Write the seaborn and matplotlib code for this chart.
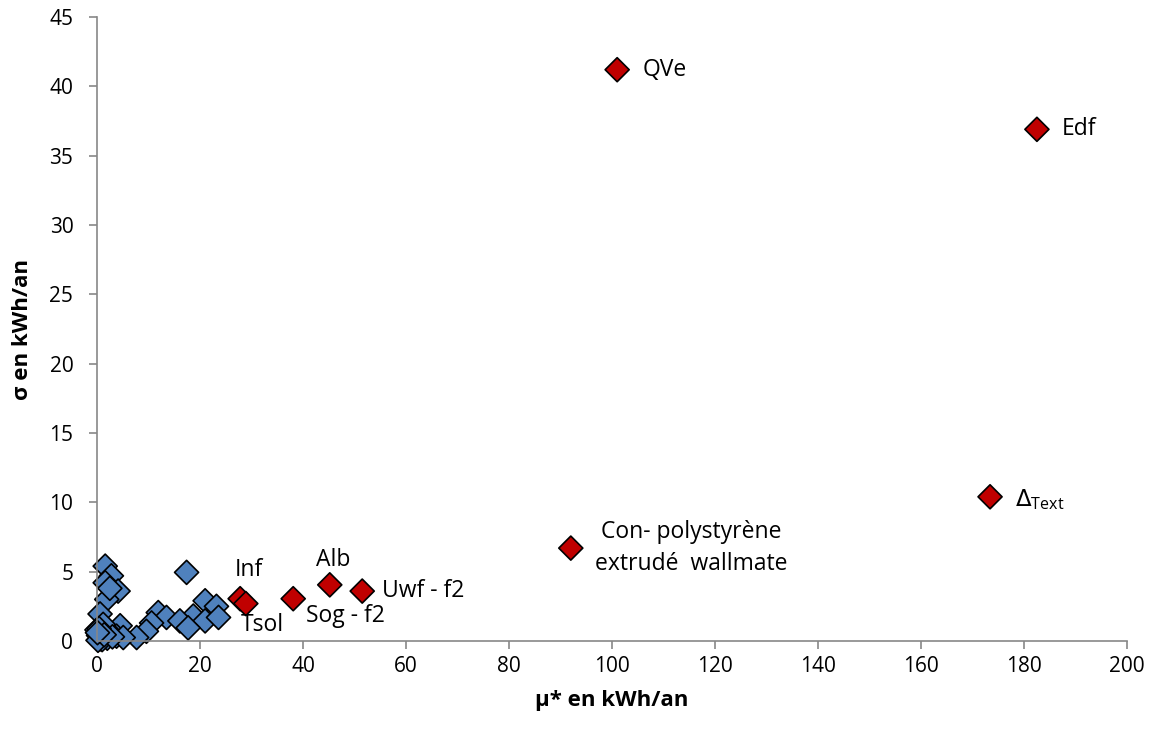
import pandas as pd
import matplotlib.pyplot as plt
import seaborn as sns

# Morris screening: mu* vs sigma (kWh/an)
blue_mu = [1.6, 17.4, 2.8, 1.6, 4.1, 1.9, 21.0, 23.2, 0.6, 11.9, 13.5, 18.7, 21.0,
           23.6, 16.1, 17.7, 10.6, 9.6, 7.7, 4.5, 3.8, 0.6, 0.0, 2.2, 1.2, 5.1,
           2.0, 0.3, 0.8, 1.0, 0.2, 3.0, 2.5, 0.4, 1.4, 0.1]
blue_sigma = [5.4, 4.95, 4.7, 4.2, 3.6, 3.0, 2.9, 2.5, 1.95, 2.05, 1.7, 1.8, 1.45,
              1.7, 1.45, 0.95, 1.3, 0.7, 0.25, 1.1, 0.35, 0.15, 0.8, 0.7, 1.2, 0.25,
              0.2, 0.4, 0.5, 0.1, 0.05, 0.3, 3.8, 0.9, 0.45, 0.6]

red_names = ["Inf", "Tsol", "Sog - f2", "Alb", "Uwf - f2",
             "Con- polystyrène\nextrudé  wallmate", "QVe", "Edf", r"$\Delta_{\mathregular{Text}}$"]
red_mu = [27.8, 28.9, 38.1, 45.2, 51.5, 92.0, 101.0, 182.5, 173.4]
red_sigma = [3.05, 2.7, 3.05, 4.05, 3.6, 6.7, 41.2, 36.9, 10.4]

df = pd.concat([
    pd.DataFrame({"mu": blue_mu, "sigma": blue_sigma, "grp": "autres"}),
    pd.DataFrame({"mu": red_mu, "sigma": red_sigma, "grp": "influents"}),
])

sns.set_style("white")
plt.rcParams["font.family"] = ["Open Sans", "DejaVu Sans"]
plt.rcParams["text.color"] = "black"
plt.rcParams["axes.labelcolor"] = "black"
plt.rcParams["xtick.labelcolor"] = "black"
plt.rcParams["ytick.labelcolor"] = "black"

fig = plt.figure(figsize=(11.53, 7.33), dpi=100)
ax = fig.add_axes([0.0841, 0.1255, 0.8934, 0.8513])

sns.scatterplot(data=df, x="mu", y="sigma", hue="grp",
                palette={"autres": "#4F81BD", "influents": "#C00000"},
                marker="D", s=150, edgecolor="black", linewidth=1.2,
                legend=False, ax=ax)
for coll in ax.collections:
    coll.set_clip_on(False)

# label offsets in points (dx, dy, ha, va)
offsets = {
    "Inf": (-4, 12, "left", "bottom"),
    "Tsol": (-4, -7, "left", "top"),
    "Sog - f2": (9, -4, "left", "top"),
    "Alb": (-10, 9, "left", "bottom"),
    "Uwf - f2": (14, 0, "left", "center"),
    "Con- polystyrène\nextrudé  wallmate": (87, 0, "center", "center"),
    "QVe": (18, 0, "left", "center"),
    "Edf": (18, 0, "left", "center"),
}
for name, x, y in zip(red_names, red_mu, red_sigma):
    dx, dy, ha, va = offsets.get(name, (18, -2, "left", "center"))
    ax.annotate(name, (x, y), xytext=(dx, dy), textcoords="offset points",
                ha=ha, va=va, fontsize=16.5, linespacing=1.45,
                multialignment="center")

ax.set_xlim(0, 200)
ax.set_ylim(0, 45)
ax.set_xticks(range(0, 201, 20))
ax.set_yticks(range(0, 46, 5))
ax.tick_params(axis="both", labelsize=15, length=6, width=1.2, color="#878787",
               direction="out", bottom=True, left=True)
ax.tick_params(axis="y", pad=11)
ax.tick_params(axis="x", pad=5)
for side in ["top", "right"]:
    ax.spines[side].set_visible(False)
for side in ["left", "bottom"]:
    ax.spines[side].set_color("#878787")
    ax.spines[side].set_linewidth(1.2)

ax.set_xlabel("μ* en kWh/an", fontsize=16, fontweight="bold", labelpad=9)
ax.set_ylabel("σ en kWh/an", fontsize=16, fontweight="bold", labelpad=12)

fig.savefig("out.png", dpi=100)
